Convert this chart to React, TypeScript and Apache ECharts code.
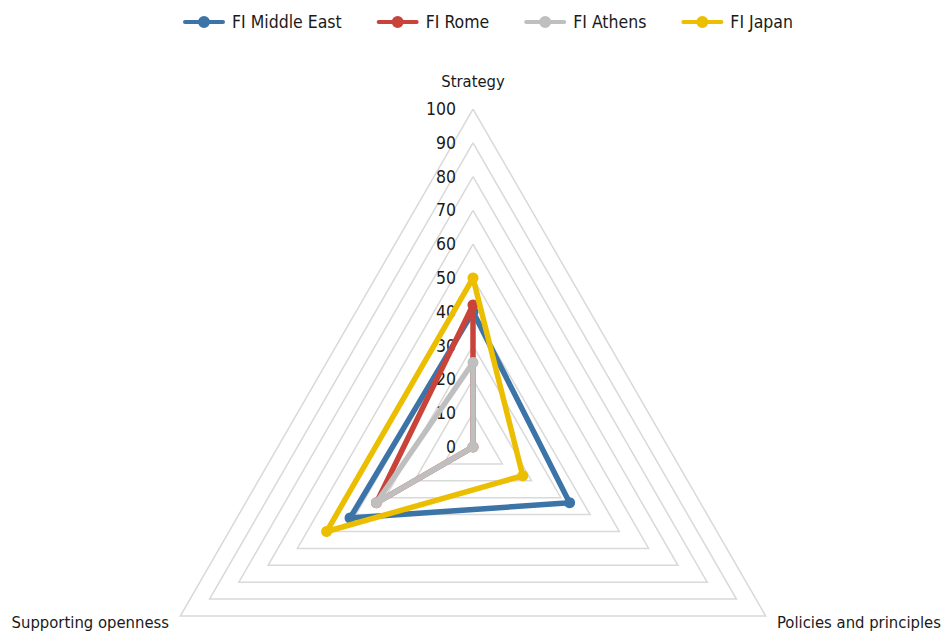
import React, { useEffect, useRef } from "react";
import * as echarts from "echarts";

const indicators = ["Strategy", "Supporting openness", "Policies and principles"];
const axisMax = 100;
const seriesNames = ["FI Middle East", "FI Rome", "FI Athens", "FI Japan"];
const middleEast = [40, 42, 33];
const rome = [42, 33, 0];
const athens = [25, 33, 0];
const japan = [50, 50, 17];
const colors = ["#3c74a8", "#c8443b", "#bfbfbf", "#ecbe00"];

const FONT = "'DejaVu Sans Condensed', 'Liberation Sans Narrow', sans-serif";
const LEGEND_ICON =
  "path://M2,4 L40,4 A2,2 0 0 1 40,8 L2,8 A2,2 0 0 1 2,4 Z M15,6 A6,6 0 1 1 27,6 A6,6 0 1 1 15,6 Z";

export default function App() {
  const ref = useRef<HTMLDivElement>(null);
  useEffect(() => {
    if (!ref.current) return;
    const chart = echarts.init(ref.current, undefined, { renderer: "svg" });
    const values = [middleEast, rome, athens, japan];
    chart.setOption({
      animation: false,
      textStyle: { fontFamily: FONT },
      legend: {
        top: 8,
        left: 178,
        itemWidth: 42,
        itemHeight: 12,
        itemGap: 35,
        icon: LEGEND_ICON,
        data: seriesNames,
        textStyle: { fontSize: 17.5, color: "#1a1a1a", fontFamily: FONT, padding: [0, 0, 0, 2] },
      },
      radar: {
        center: [473, 447],
        radius: 338,
        startAngle: 90,
        shape: "polygon",
        splitNumber: 10,
        nameGap: 13,
        axisName: { color: "#1a1a1a", fontSize: 16.5, fontFamily: FONT },
        axisLine: { show: false },
        axisTick: { show: false },
        splitArea: { show: false },
        splitLine: { lineStyle: { color: "#d9d9d9", width: 1.5 } },
        axisLabel: { show: false, color: "#1a1a1a", fontSize: 17.5, margin: 17, fontFamily: FONT },
        indicator: indicators.map((name, i) => ({
          name,
          max: axisMax,
          min: 0,
          ...(i === 0 ? { axisLabel: { show: true }, nameGap: 19 } : {}),
        })),
      },
      series: seriesNames.map((name, i) => ({
        type: "radar",
        name,
        symbol: "circle",
        symbolSize: 11,
        z: 2 + i,
        lineStyle: { width: 5.5, color: colors[i] },
        itemStyle: { color: colors[i] },
        data: [{ name, value: values[i] }],
      })),
    });
    return () => chart.dispose();
  }, []);
  return (
    <div
      ref={ref}
      style={{ position: "fixed", left: 0, top: 0, width: 944, height: 638, background: "#fff" }}
    />
  );
}
